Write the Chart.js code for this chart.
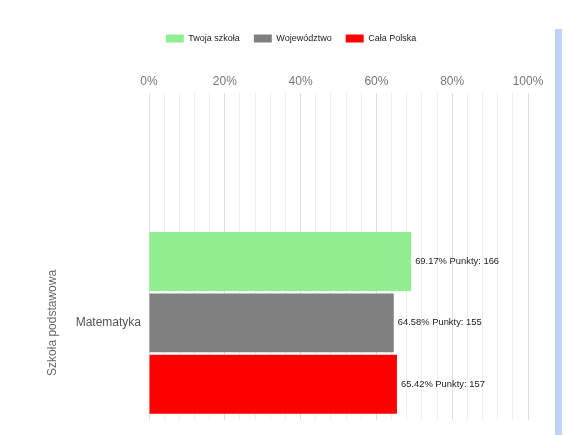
<!DOCTYPE html>
<html>
<head>
<meta charset="utf-8">
<title>Wyniki - Matematyka</title>
<script src="https://cdn.jsdelivr.net/npm/chart.js@4"></script>
<style>
  html, body { margin: 0; padding: 0; background: #fff; }
  #wrap { position: relative; width: 569px; height: 435px; }
  #side { position: absolute; left: 555px; top: 29px; width: 7px; height: 406px; background: #bdd4f8; }
</style>
</head>
<body>
<div id="wrap">
  <canvas id="chart"></canvas>
  <div id="side"></div>
</div>
<script>
// ── DATA ────────────────────────────────────────────────────
const categories   = ['Matematyka'];
const seriesNames  = ['Twoja szkoła', 'Województwo', 'Cała Polska'];
const percentVals  = [69.17, 64.58, 65.42];
const pointVals    = [166, 155, 157];
const axisTitle    = 'Szkoła podstawowa';

const seriesColors = ['#90ee90', '#808080', '#ff0000'];
const FONT = "'Liberation Sans', Arial, sans-serif";

// ── LABELS NEXT TO BARS ─────────────────────────────────────
const barLabels = {
  id: 'barLabels',
  afterDatasetsDraw(chart) {
    const ctx = chart.ctx;
    ctx.save();
    ctx.font = '9.4px ' + FONT;
    ctx.fillStyle = '#222';
    ctx.textAlign = 'left';
    ctx.textBaseline = 'middle';
    chart.data.datasets.forEach((ds, i) => {
      const meta = chart.getDatasetMeta(i);
      meta.data.forEach(bar => {
        ctx.fillText(percentVals[i].toFixed(2) + '% Punkty: ' + pointVals[i], bar.x + 4, bar.y);
      });
    });
    ctx.restore();
  }
};

// ── CHART ───────────────────────────────────────────────────
new Chart(document.getElementById('chart'), {
  type: 'bar',
  data: {
    labels: categories,
    datasets: seriesNames.map((name, i) => ({
      label: name,
      data: [percentVals[i]],
      backgroundColor: seriesColors[i],
      borderWidth: 0,
      categoryPercentage: 0.95,
      barPercentage: 0.96,
    }))
  },
  options: {
    indexAxis: 'y',
    responsive: true,
    maintainAspectRatio: false,
    animation: false,
    layout: { padding: { top: 20, left: 54, right: 41, bottom: 15 } },
    plugins: {
      legend: {
        position: 'top',
        labels: {
          boxWidth: 18, boxHeight: 8, padding: 14,
          color: '#222',
          font: { family: FONT, size: 9 }
        }
      },
      tooltip: { enabled: false }
    },
    scales: {
      x: {
        position: 'top',
        min: 0, max: 100,
        border: { display: false },
        grid: {
          color: c => (c.tick && c.tick.value % 20 === 0) ? '#dedede' : '#eeeeee',
          tickLength: 133,
        },
        ticks: {
          stepSize: 4,
          autoSkip: false,
          maxRotation: 0, minRotation: 0,
          padding: 4,
          color: '#777',
          font: { family: FONT, size: 12 },
          callback: v => v % 20 === 0 ? v + '%' : ''
        },
        afterFit: s => { s.height = 173; }
      },
      y: {
        border: { display: false },
        grid: { display: false, drawTicks: false },
        ticks: { padding: 8, color: '#555', font: { family: FONT, size: 12 } },
        title: {
          display: true,
          text: axisTitle,
          color: '#666',
          padding: { top: -9, bottom: 0 },
          font: { family: FONT, size: 12 }
        },
        afterFit: s => { s.width = 95; }
      }
    }
  },
  plugins: [barLabels]
});
</script>
</body>
</html>
